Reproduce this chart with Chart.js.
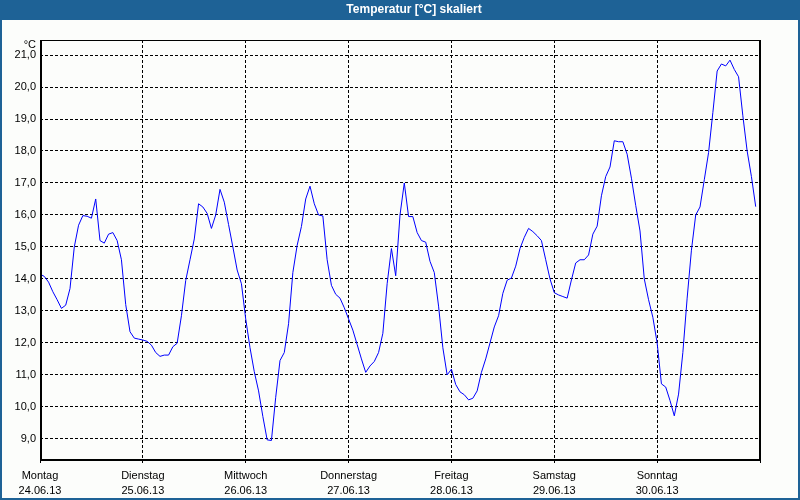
<!DOCTYPE html>
<html>
<head>
<meta charset="utf-8">
<script src="https://cdn.jsdelivr.net/npm/chart.js@4/dist/chart.umd.min.js"></script>
<style>
  html, body { margin: 0; padding: 0; background: #fcfdfb; }
  #wrap { width: 800px; height: 500px; }
</style>
</head>
<body>
<div id="wrap"><canvas id="tempChart" width="800" height="500"></canvas></div>
<script>
// Stundenwerte pro Tag (°C)
var montag     = [14.15, 14.08, 13.9, 13.6, 13.35, 13.08, 13.18, 13.7, 15.0, 15.68, 15.98, 15.96, 15.9, 16.5, 15.2, 15.12, 15.4, 15.45, 15.2, 14.6, 13.2, 12.35, 12.15, 12.12];
var dienstag   = [12.09, 12.05, 11.93, 11.7, 11.58, 11.62, 11.62, 11.88, 11.99, 12.85, 13.95, 14.6, 15.25, 16.35, 16.25, 16.05, 15.58, 16.0, 16.8, 16.4, 15.7, 15.0, 14.28, 13.85];
var mittwoch   = [12.75, 11.85, 11.1, 10.5, 9.7, 8.97, 8.95, 10.3, 11.45, 11.7, 12.6, 14.2, 15.05, 15.64, 16.5, 16.9, 16.35, 16.0, 15.97, 14.6, 13.8, 13.52, 13.4, 13.1];
var donnerstag = [12.75, 12.4, 11.95, 11.5, 11.08, 11.28, 11.42, 11.7, 12.3, 13.85, 14.95, 14.1, 16.0, 17.0, 15.95, 15.95, 15.45, 15.2, 15.15, 14.55, 14.2, 13.15, 11.85, 11.0];
var freitag    = [11.18, 10.7, 10.47, 10.38, 10.22, 10.27, 10.5, 11.08, 11.5, 12.0, 12.5, 12.85, 13.55, 13.96, 14.03, 14.4, 14.95, 15.3, 15.58, 15.48, 15.35, 15.2, 14.6, 14.0];
var samstag    = [13.57, 13.5, 13.45, 13.4, 13.97, 14.5, 14.6, 14.6, 14.75, 15.4, 15.65, 16.6, 17.2, 17.5, 18.32, 18.29, 18.29, 17.9, 17.15, 16.3, 15.5, 14.0, 13.35, 12.8];
var sonntag    = [12.0, 10.72, 10.62, 10.2, 9.72, 10.4, 11.7, 13.4, 14.9, 16.0, 16.25, 17.1, 17.95, 19.2, 20.5, 20.72, 20.66, 20.84, 20.55, 20.32, 19.1, 18.0, 17.2, 16.26];

var tagNamen = ["Montag", "Dienstag", "Mittwoch", "Donnerstag", "Freitag", "Samstag", "Sonntag"];
var datum    = ["24.06.13", "25.06.13", "26.06.13", "27.06.13", "28.06.13", "29.06.13", "30.06.13"];

var yMin = 8.34, yMax = 21.47;

// Punkte zusammenbauen: x = Stunde seit Montag 0 Uhr
var tage = [montag, dienstag, mittwoch, donnerstag, freitag, samstag, sonntag];
var punkte = [];
tage.forEach(function(werte, d) {
  werte.forEach(function(v, h) {
    punkte.push({ x: d * 24 + h, y: v });
  });
});

var FONT = "'Liberation Sans', Arial, sans-serif";
var BLAU = "#1e6296";

// Fensterrahmen, Titelleiste und Diagrammrahmen
var rahmen = {
  id: "rahmen",
  beforeDraw: function(chart) {
    var c = chart.ctx;
    c.save();
    c.fillStyle = "#fcfdfb";
    c.fillRect(0, 0, chart.width, chart.height);
    c.restore();
  },
  afterDraw: function(chart) {
    var c = chart.ctx;
    var a = chart.chartArea;
    c.save();
    // Titelleiste
    c.fillStyle = BLAU;
    c.fillRect(0, 0, chart.width, 20);
    c.fillRect(0, 0, 2, chart.height);
    c.fillRect(chart.width - 2, 0, 2, chart.height);
    c.fillRect(0, chart.height - 2, chart.width, 2);
    c.fillStyle = "#ffffff";
    c.font = "bold 12px " + FONT;
    c.textAlign = "center";
    c.textBaseline = "middle";
    c.fillText("Temperatur [°C] skaliert", 414, 10);
    // Achsenrahmen
    c.fillStyle = "#000000";
    c.fillRect(a.left, a.top, 2, a.bottom - a.top);
    c.fillRect(a.left, a.bottom - 1, a.right - a.left, 2);
    c.fillRect(a.left, a.top, a.right - a.left, 1);
    c.fillRect(a.right - 1, a.top, 2, a.bottom - a.top + 1);
    // Einheit
    c.font = "11px " + FONT;
    c.textAlign = "right";
    c.textBaseline = "middle";
    c.fillText("°C", 36, 45);
    c.restore();
  }
};

var ctx = document.getElementById("tempChart").getContext("2d");
var chart = new Chart(ctx, {
  type: "line",
  data: {
    datasets: [{
      data: punkte,
      borderColor: "#0000ff",
      borderWidth: 1,
      pointRadius: 0,
      tension: 0,
      fill: false
    }]
  },
  options: {
    responsive: false,
    animation: false,
    layout: { padding: { left: 0, right: 40, top: 40, bottom: 0 } },
    plugins: {
      legend: { display: false },
      tooltip: { enabled: false },
      title: { display: false }
    },
    scales: {
      x: {
        type: "linear",
        min: 0,
        max: 168,
        afterFit: function(s) { s.height = 40; },
        border: { display: false, dash: [3, 2] },
        grid: { color: "#000000", lineWidth: 1, tickLength: 3, drawTicks: true },
        ticks: {
          stepSize: 24,
          autoSkip: false,
          maxRotation: 0,
          padding: 5,
          color: "#000000",
          font: { family: FONT, size: 11, lineHeight: 15 / 11 },
          callback: function(v) {
            var i = Math.round(v / 24);
            if (i >= tagNamen.length) return "";
            return [tagNamen[i], datum[i]];
          }
        }
      },
      y: {
        min: yMin,
        max: yMax,
        afterFit: function(s) { s.width = 40; },
        border: { display: false, dash: [3, 2] },
        grid: { color: "#000000", lineWidth: 1, drawTicks: false },
        ticks: {
          stepSize: 1,
          includeBounds: false,
          padding: 4,
          color: "#000000",
          font: { family: FONT, size: 11 },
          callback: function(v) { return v.toFixed(1).replace(".", ","); }
        }
      }
    }
  },
  plugins: [rahmen]
});
</script>
</body>
</html>
